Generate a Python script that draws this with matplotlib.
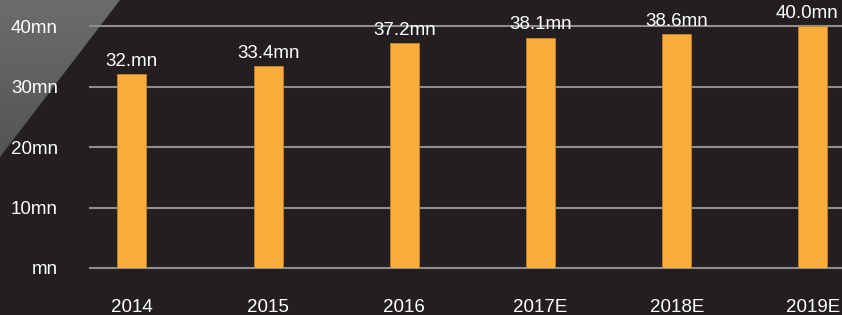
import numpy as np
import matplotlib
matplotlib.use('Agg')
import matplotlib.pyplot as plt
from matplotlib.patches import Polygon

plt.rcParams['font.family'] = ['Liberation Sans', 'DejaVu Sans']

# data
years = ['2014', '2015', '2016', '2017E', '2018E', '2019E']
users = [32.0, 33.4, 37.2, 38.1, 38.6, 40.0]
value_labels = ['32.mn', '33.4mn', '37.2mn', '38.1mn', '38.6mn', '40.0mn']
y_ticks = [0, 10, 20, 30, 40]
y_tick_labels = ['mn', '10mn', '20mn', '30mn', '40mn']

bg = '#231f20'
bar_color = '#f9ad3b'
grid_color = '#8e8e8e'
W, H = 842, 315
fs = 13.5

fig = plt.figure(figsize=(W / 100, H / 100), dpi=100, facecolor=bg)

# grey corner triangle with a soft gradient
bgax = fig.add_axes([0, 0, 1, 1], zorder=-1)
bgax.set_xlim(0, W)
bgax.set_ylim(H, 0)
bgax.axis('off')
grad = np.linspace(0, 1, 100).reshape(-1, 1)
img = bgax.imshow(grad, cmap=matplotlib.colors.LinearSegmentedColormap.from_list(
    'g', ['#6b6c6e', '#535456']), extent=[0, 120, 160, 0], aspect='auto')
tri = Polygon([[0, 0], [120, 0], [0, 157]], closed=True, transform=bgax.transData,
              facecolor='none', edgecolor='none')
bgax.add_patch(tri)
img.set_clip_path(tri)

ax = fig.add_axes([90 / W, 1 - 268 / H, 1 - 90 / W, 268 / H])
ax.set_facecolor('none')

x = np.arange(len(years))
ax.bar(x, users, width=0.213, color=bar_color, edgecolor='#c9802a', linewidth=0.6, zorder=3)

for i, (xi, v, lab) in enumerate(zip(x, users, value_labels)):
    dx = -4 if i == len(years) - 1 else 0
    ax.annotate(lab, (xi, v), xytext=(dx, 3), textcoords='offset points',
                ha='center', va='bottom', color='white', fontsize=fs, zorder=4)

ax.set_xlim(-0.308, 5.213)
ax.set_ylim(0, 44.3)
ax.set_xticks(x)
ax.set_xticklabels(years)
ax.set_yticks(y_ticks)
ax.set_yticklabels(y_tick_labels)

for t in y_ticks:
    ax.axhline(t, color=grid_color, linewidth=1.5, zorder=1, clip_on=False)

for s in ax.spines.values():
    s.set_visible(False)
ax.tick_params(axis='x', length=0, pad=22, labelsize=fs, labelcolor='white')
ax.tick_params(axis='y', length=0, pad=23, labelsize=fs, labelcolor='white')

fig.savefig('out.png', dpi=100, facecolor=bg)
